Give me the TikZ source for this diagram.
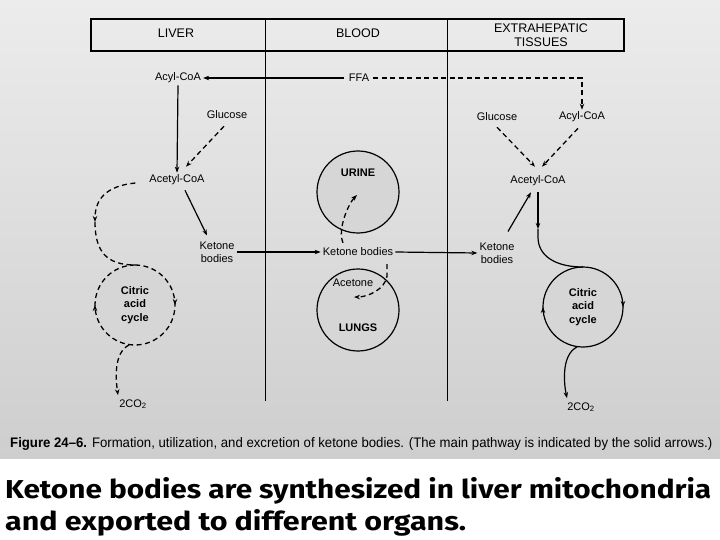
\documentclass[tikz,border=0pt]{standalone}
\usepackage{fontspec}
\setmainfont{Liberation Sans}
\newfontfamily\bigfont{Fira Sans}
\usetikzlibrary{arrows.meta,decorations.markings}
\definecolor{bgtop}{RGB}{236,236,236}
\definecolor{bgmid}{RGB}{229,229,229}
\definecolor{bgbot}{RGB}{206,206,206}
\definecolor{stip}{RGB}{214,214,214}
\begin{document}
\begin{tikzpicture}[x=1pt,y=-1pt,
  >={Stealth[length=6pt,width=4.5pt]},
  lbl/.style={font=\fontsize{11}{13}\selectfont, inner sep=2pt, align=center},
  hd/.style={font=\fontsize{12.5}{14}\selectfont, inner sep=1pt, align=center},
  cyc/.style={font=\bfseries\fontsize{11}{13.5}\selectfont, align=center},
  sol/.style={line width=1.2pt},
  dsh/.style={line width=1.3pt, dash pattern=on 5pt off 3.5pt},
  ring/.style={circle, minimum size=80pt, inner sep=0pt, outer sep=0pt, fill=stip},
  twoarrows/.style={postaction={decorate}, decoration={markings,
     mark=at position 0.25 with {\arrow{Stealth[length=6pt,width=4.5pt]}},
     mark=at position 0.75 with {\arrow{Stealth[length=6pt,width=4.5pt]}}}}
]
\useasboundingbox (0,0) rectangle (720,540);
\fill[white] (0,0) rectangle (720,540);
\shade[top color=bgtop, middle color=bgmid, bottom color=bgbot] (0,0) rectangle (720,458);

% header
\draw[line width=1.2pt] (91,19) rectangle (624,51);
\draw[line width=1pt] (265,19) -- (265,401);
\draw[line width=1pt] (447,19) -- (447,401);
\node[hd] (liverH) at (176,33) {LIVER};
\node[hd] (bloodH) at (358,33) {BLOOD};
\node[hd] (extH) at (541,35) {EXTRAHEPATIC\\TISSUES};

% liver
\node[lbl] (acylL) at (178,78) {Acyl-CoA};
\node[lbl] (ffa) at (359,78) {FFA};
\node[lbl] (glucL) at (227,115) {Glucose};
\node[lbl] (acetL) at (177,180) {Acetyl-CoA};
\node[lbl] (ketL) at (217,252) {Ketone\\bodies};
\node[ring] (citL) at (135,305) {};
\node[cyc] (citLT) at (135,305) {Citric\\acid\\cycle};
\node[lbl] (co2L) at (133,404) {2CO\textsubscript{2}};
\coordinate (lbend) at (95,222);

% blood
\node[circle, minimum size=82pt, inner sep=0pt, fill=stip, draw, sol] (urine) at (358,192) {};
\node[lbl, font=\bfseries\fontsize{11}{13}\selectfont] (urineT) at (358,173) {URINE};
\node[lbl] (ketB) at (358,252) {Ketone bodies};
\node[circle, minimum size=82pt, inner sep=0pt, fill=stip, draw, sol] (lungs) at (358,310) {};
\node[lbl] (acetone) at (353,283) {Acetone};
\node[lbl, font=\bfseries\fontsize{11}{13}\selectfont] (lungsT) at (358,328) {LUNGS};

% extrahepatic
\node[lbl] (glucE) at (497,117) {Glucose};
\node[lbl] (acylE) at (582,117) {Acyl-CoA};
\node[lbl] (acetE) at (538,181) {Acetyl-CoA};
\node[lbl] (ketE) at (497,253) {Ketone\\bodies};
\node[ring] (citE) at (583,307) {};
\node[cyc] (citET) at (583,307) {Citric\\acid\\cycle};
\node[lbl] (co2E) at (581,407) {2CO\textsubscript{2}};
\coordinate (ebend) at (538,229);

% connectors liver
\draw[sol,->,shorten <=3pt] (ffa.west) -- (acylL.east);
\draw[dsh,->,shorten <=2pt] (ffa.east) -| (acylE.north);
\draw[sol,->] (acylL.south) -- (acetL.north);
\draw[dsh,->] ([xshift=-3pt,yshift=-5pt]glucL.south) -- ([xshift=9pt,yshift=6pt]acetL.north);
\draw[sol,->] ([xshift=8pt,yshift=-3pt]acetL.south) -- ([xshift=-10pt,yshift=4pt]ketL.north);
\draw[dsh,->] ([xshift=-12pt,yshift=-3pt]acetL.west) .. controls +(-30,3) and +(0,-22) .. (lbend);
\draw[dsh] (lbend) .. controls +(0,30) and +(-28,0) .. (citL.north);
\draw[dsh,twoarrows] (citL.north) arc[start angle=90, end angle=-270, radius=40pt];
\draw[dsh,->] ([xshift=-6pt]citL.south) .. controls +(-16,8) and +(-2,-14) .. ([xshift=-15pt,yshift=2pt]co2L.north);

% blood connectors
\draw[sol,->] (ketL.east) -- (ketB.west);
\draw[sol,->] (ketB.east) -- (ketE.west);
\draw[dsh,->] ([xshift=-15pt,yshift=3pt]ketB.north) .. controls +(-6,-14) and +(-8,8) .. ([xshift=-1pt,yshift=-3pt]urine.center);
\draw[dsh,->] ([xshift=29pt,yshift=-6pt]ketB.south) -- ++(0,12) .. controls +(-2,13) and +(14,0) .. ([xshift=1pt,yshift=-8pt]acetone.south);

% extrahepatic connectors
\draw[dsh,->] ([xshift=0pt,yshift=-4pt]glucE.south) -- ([xshift=-3pt,yshift=7pt]acetE.north);
\draw[dsh,->] ([xshift=-4pt,yshift=-4pt]acylE.south) -- ([xshift=4pt,yshift=7pt]acetE.north);
\draw[sol,->] ([xshift=11pt,yshift=9pt]ketE.north) -- ([xshift=-7pt,yshift=-4pt]acetE.south);
\draw[sol,->,shorten <=4pt] (acetE.south) -- (ebend);
\draw[sol] (ebend) -- ++(0,8) .. controls +(0,20) and +(-26,0) .. (citE.north);
\draw[sol,twoarrows] (citE.north) arc[start angle=90, end angle=-270, radius=40pt];
\draw[sol,->] ([xshift=-6pt]citE.south) .. controls +(-16,8) and +(-3,-14) .. ([xshift=-14pt,yshift=2pt]co2E.north);

% caption
\node[anchor=base west, inner sep=0pt] (cap) at (10,447) {\resizebox{702pt}{10pt}{\textbf{Figure 24--6.} Formation, utilization, and excretion of ketone bodies. (The main pathway is indicated by the solid arrows.)}};
\node[anchor=base west, inner sep=0pt] (line1) at (5,498) {\resizebox{706pt}{21pt}{\bigfont\bfseries Ketone bodies are synthesized in liver mitochondria}};
\node[anchor=base west, inner sep=0pt] (line2) at (5,530) {\resizebox{461pt}{21pt}{\bigfont\bfseries and exported to different organs.}};
\end{tikzpicture}
\end{document}
